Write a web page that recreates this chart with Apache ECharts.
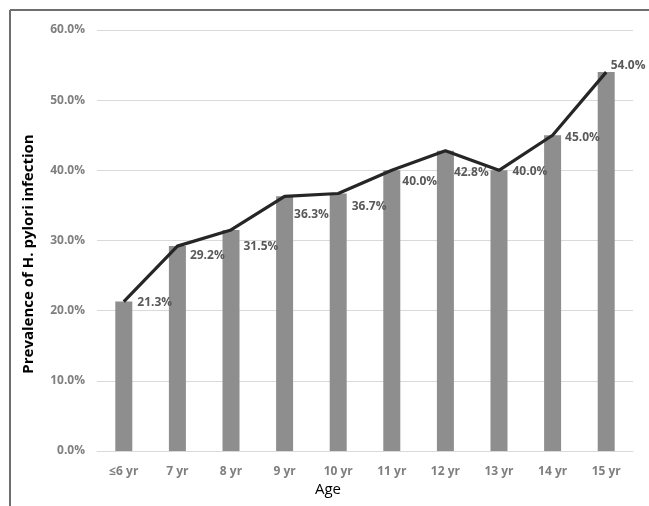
<!DOCTYPE html>
<html>
<head>
<meta charset="utf-8">
<script src="https://cdn.jsdelivr.net/npm/echarts@6/dist/echarts.min.js"></script>
<style>
  html, body { margin: 0; padding: 0; background: #ffffff; }
  #chart { width: 649px; height: 506px; }
</style>
</head>
<body>
<div id="chart"></div>
<script>
// Age groups and prevalence of H. pylori infection (%)
const ageGroups = ['≤6 yr', '7 yr', '8 yr', '9 yr', '10 yr', '11 yr', '12 yr', '13 yr', '14 yr', '15 yr'];
const prevalence = [21.3, 29.2, 31.5, 36.3, 36.7, 40.0, 42.8, 40.0, 45.0, 54.0];
const yTicks = [0, 10, 20, 30, 40, 50, 60];

// Nudges for each value label, relative to the top-right corner of its bar
const labelNudges = [[5, 1], [4, 9], [4, 17], [1, 18], [5, 13], [2, 11], [0, 22], [5, 1], [4, 2], [-4, -7]];

const tickFont = '"Open Sans", sans-serif';

const chart = echarts.init(document.getElementById('chart'), null, { renderer: 'canvas' });

chart.setOption({
  animation: false,
  backgroundColor: '#ffffff',
  grid: { left: 97, right: 16, top: 30, bottom: 55 },
  xAxis: {
    type: 'category',
    data: ageGroups,
    axisLine: { lineStyle: { color: '#d9d9d9', width: 1 } },
    axisTick: { show: false },
    axisLabel: { color: '#7f7f7f', fontFamily: tickFont, fontWeight: 'bold', fontSize: 12, margin: 15 }
  },
  yAxis: {
    type: 'value',
    min: yTicks[0],
    max: yTicks[yTicks.length - 1],
    interval: 10,
    axisLine: { show: false },
    axisTick: { show: false },
    splitLine: { lineStyle: { color: '#d9d9d9', width: 1 } },
    axisLabel: {
      color: '#7f7f7f', fontFamily: tickFont, fontWeight: 'bold', fontSize: 12, margin: 12,
      formatter: v => v.toFixed(1) + '%'
    }
  },
  series: [
    {
      type: 'bar',
      barWidth: 17,
      itemStyle: { color: '#8e8e8e' },
      data: prevalence.map((v, i) => ({
        value: v,
        label: { offset: labelNudges[i] }
      })),
      label: {
        show: true,
        position: ['100%', 0],
        align: 'left',
        verticalAlign: 'middle',
        color: '#595959',
        fontFamily: tickFont,
        fontWeight: 'bold',
        fontSize: 12,
        formatter: p => p.value.toFixed(1) + '%'
      },
      z: 2
    },
    {
      type: 'line',
      data: prevalence,
      symbol: 'none',
      lineStyle: { color: '#262626', width: 3.2 },
      z: 3
    }
  ],
  graphic: [
    // frame along the top and left edges
    { type: 'line', shape: { x1: 10, y1: 10, x2: 649, y2: 10 }, style: { stroke: '#6e6e6e', lineWidth: 2 } },
    { type: 'line', shape: { x1: 10, y1: 10, x2: 10, y2: 506 }, style: { stroke: '#6e6e6e', lineWidth: 2 } },
    {
      type: 'text',
      x: 29, y: 254,
      rotation: Math.PI / 2,
      style: {
        text: 'Prevalence of H. pylori infection',
        fill: '#000000',
        font: 'bold 15px "Open Sans", sans-serif',
        align: 'center',
        verticalAlign: 'middle'
      }
    },
    {
      type: 'text',
      x: 328, y: 490,
      style: {
        text: 'Age',
        fill: '#000000',
        font: '15px "Open Sans", sans-serif',
        align: 'center',
        verticalAlign: 'middle'
      }
    }
  ]
});
</script>
</body>
</html>
